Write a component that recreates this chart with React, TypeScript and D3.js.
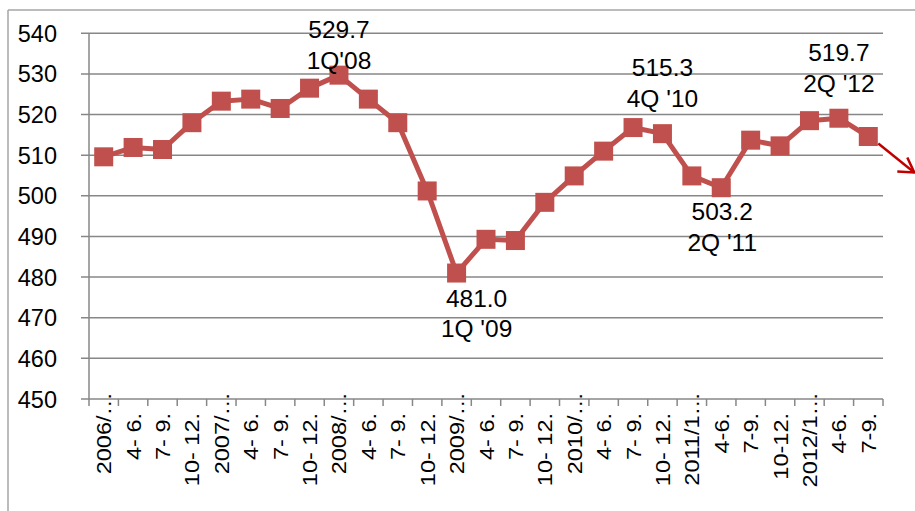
import React, { useEffect, useRef } from "react";
import * as d3 from "d3";

// quarterly index, 2006 Q1 .. 2012 Q3
const quarterLabels = [
  "2006/…", "4- 6.", "7- 9.", "10- 12.",
  "2007/…", "4- 6.", "7- 9.", "10- 12.",
  "2008/…", "4- 6.", "7- 9.", "10- 12.",
  "2009/…", "4- 6.", "7- 9.", "10- 12.",
  "2010/…", "4- 6.", "7- 9.", "10- 12.",
  "2011/1…", "4-6.", "7-9.", "10-12.",
  "2012/1…", "4-6.", "7-9.",
];

const values = [
  509.6, 511.9, 511.4, 518.0,
  523.3, 523.8, 521.5, 526.5,
  529.7, 523.8, 518.0, 501.2,
  481.0, 489.3, 489.0, 498.4,
  504.9, 511.0, 516.8, 515.3,
  504.9, 502.0, 513.7, 512.3,
  518.5, 519.1, 514.6,
];

const yTicks = [450, 460, 470, 480, 490, 500, 510, 520, 530, 540];

const callouts = [
  { idx: 8, value: "529.7", quarter: "1Q'08" },
  { idx: 12, value: "481.0", quarter: "1Q '09" },
  { idx: 19, value: "515.3", quarter: "4Q '10" },
  { idx: 21, value: "503.2", quarter: "2Q '11" },
  { idx: 25, value: "519.7", quarter: "2Q '12" },
];

const W = 915;
const H = 511;
const FONT = "'Liberation Sans', Arial, sans-serif";
const RED = "#C0504D";
const GRID = "#878787";

// where each callout sits relative to its point: [dx, first baseline dy, second baseline dy]
const calloutOffsets: Record<number, [number, number, number]> = {
  8: [0, -37, -6],
  12: [20, 34, 64],
  19: [0, -58, -27],
  21: [1, 32, 63],
  25: [0, -57, -26],
};

export default function App() {
  const ref = useRef<SVGSVGElement>(null);

  useEffect(() => {
    const svg = d3.select(ref.current);
    svg.selectAll("*").remove();

    const left = 89, right = 883, top = 33.3, bottom = 399;

    const x = d3
      .scaleBand<number>()
      .domain(d3.range(values.length))
      .range([left, right]);
    const y = d3.scaleLinear().domain([450, 540]).range([bottom, top]);
    const cx = (i: number) => (x(i) as number) + x.bandwidth() / 2;

    // chart frame (extends beyond the viewport)
    svg.append("line").attr("x1", 8).attr("x2", W).attr("y1", 10).attr("y2", 10)
      .attr("stroke", "#A6A6A6").attr("stroke-width", 1.5);
    svg.append("line").attr("x1", 8).attr("x2", 8).attr("y1", 10).attr("y2", H)
      .attr("stroke", "#A6A6A6").attr("stroke-width", 1.5);

    // gridlines + y ticks
    svg.append("g")
      .selectAll("line")
      .data(yTicks)
      .join("line")
      .attr("x1", left - 8)
      .attr("x2", right)
      .attr("y1", (d) => y(d))
      .attr("y2", (d) => y(d))
      .attr("stroke", GRID)
      .attr("stroke-width", 1.5);

    svg.append("line")
      .attr("x1", left).attr("x2", left).attr("y1", y(540)).attr("y2", bottom)
      .attr("stroke", GRID).attr("stroke-width", 1.5);

    svg.append("g")
      .selectAll("text")
      .data(yTicks)
      .join("text")
      .attr("x", 57)
      .attr("y", (d) => y(d) + 8.5)
      .attr("text-anchor", "end")
      .style("font-family", FONT)
      .style("font-size", "23.5px")
      .attr("fill", "#000")
      .text((d) => d);

    // x ticks at category boundaries
    svg.append("g")
      .selectAll("line")
      .data(d3.range(values.length + 1))
      .join("line")
      .attr("x1", (i) => left + i * x.step())
      .attr("x2", (i) => left + i * x.step())
      .attr("y1", bottom)
      .attr("y2", bottom + 7)
      .attr("stroke", GRID)
      .attr("stroke-width", 1.5);

    // rotated quarter labels, slightly stretched along their length like the original
    svg.append("g")
      .selectAll("text")
      .data(quarterLabels)
      .join("text")
      .attr("transform", (d, i) => {
        const yy = d.endsWith("…") ? 392 : 413;
        return `translate(${cx(i) + 7.5},${yy}) rotate(-90) scale(1.12,1)`;
      })
      .attr("text-anchor", "end")
      .style("font-family", FONT)
      .style("font-size", "21px")
      .attr("fill", "#000")
      .text((d) => d);

    // series line
    const line = d3
      .line<number>()
      .x((d, i) => cx(i))
      .y((d) => y(d));

    svg.append("path")
      .datum(values)
      .attr("d", line)
      .attr("fill", "none")
      .attr("stroke", RED)
      .attr("stroke-width", 5)
      .attr("stroke-linejoin", "round");

    const m = 19;
    svg.append("g")
      .selectAll("rect")
      .data(values)
      .join("rect")
      .attr("x", (d, i) => cx(i) - m / 2)
      .attr("y", (d) => y(d) - m / 2)
      .attr("width", m)
      .attr("height", m)
      .attr("fill", RED);

    // callouts
    callouts.forEach((c) => {
      const [dx, dy1, dy2] = calloutOffsets[c.idx];
      const px = cx(c.idx) + dx;
      const py = y(values[c.idx]);
      const t = svg.append("text")
        .attr("text-anchor", "middle")
        .style("font-family", FONT)
        .style("font-size", "24.5px")
        .attr("fill", "#000");
      t.append("tspan").attr("x", px).attr("y", py + dy1).text(c.value);
      t.append("tspan").attr("x", px).attr("y", py + dy2).text(c.quarter);
    });

    // trend arrow after the last point
    const last = values.length - 1;
    const ax = cx(last) + 10;
    const ay = y(values[last]) + 7;
    svg.append("line")
      .attr("x1", ax).attr("y1", ay).attr("x2", ax + 36).attr("y2", ay + 29)
      .attr("stroke", "#C00000").attr("stroke-width", 2.5);
    svg.append("path")
      .attr("d", `M${ax + 19},${ay + 28} L${ax + 36},${ay + 29} L${ax + 29},${ay + 14}`)
      .attr("fill", "none")
      .attr("stroke", "#C00000")
      .attr("stroke-width", 2.5);
  }, []);

  return (
    <svg
      ref={ref}
      width={W}
      height={H}
      style={{ position: "absolute", left: 0, top: 0, background: "#fff" }}
    />
  );
}
